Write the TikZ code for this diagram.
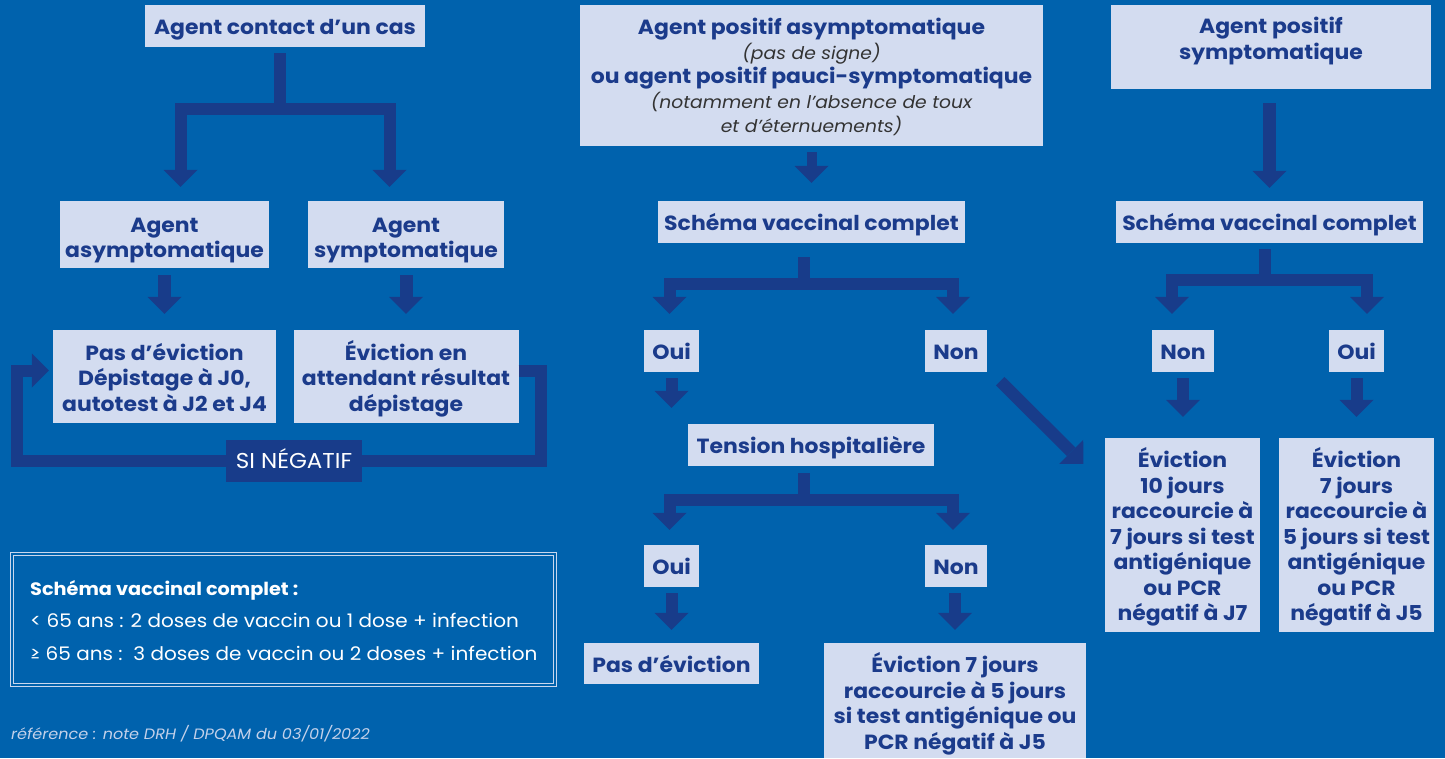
\documentclass[tikz,border=0pt]{standalone}
\usepackage{fontspec}
\setmainfont{Poppins}[FakeStretch=1.07]
\usetikzlibrary{arrows.meta,calc}
\definecolor{bgc}{HTML}{0062AD}
\definecolor{boxc}{HTML}{D3DCF0}
\definecolor{textc}{HTML}{1B3B8B}
\definecolor{arrowc}{HTML}{183C8A}
\definecolor{grayt}{HTML}{333333}
\definecolor{legc}{HTML}{C9D7EE}
\definecolor{reft}{HTML}{C3D1EA}
\newcommand\mysubtxt{\mdseries\itshape\fontsize{17.5}{24.5}\selectfont\color{grayt}}
\newcommand\mystrut[1]{\rule{0pt}{#1}}
\tikzset{
  box/.style={fill=boxc, text=textc, font=\bfseries\fontsize{20.5}{25.5}\selectfont, align=center, inner sep=0pt,
    execute at begin node={\rule{0pt}{23pt}}, execute at end node={\rule[-5.5pt]{0pt}{5.5pt}}},
  bar/.style={draw=arrowc, line width=12pt},
  flow/.style={draw=arrowc, line width=12pt, -{Triangle[length=17pt 0 0, width=34pt 0 0, line width=0pt 0 0]}},
  legtext/.style={text=white, font=\fontsize{18.7}{22}\selectfont, anchor=base west, inner sep=0pt},
}
\begin{document}
\begin{tikzpicture}[x=1pt,y=-1pt]
\fill[bgc] (0,0) rectangle (1445,758);
\useasboundingbox (0,0) rectangle (1445,758);

% ---------- left column ----------
\node[box, minimum width=280, minimum height=42] (a1) at (285,26) {Agent contact d’un cas};
\node[box, minimum width=209, minimum height=67] (a2) at (164.5,234.5) {\mystrut{26pt}Agent\\asymptomatique};
\node[box, minimum width=196, minimum height=67] (a3) at (406,234.5) {\mystrut{26pt}Agent\\symptomatique};
\node[box, minimum width=223, minimum height=93] (a4) at (164.5,376.5) {\mystrut{24pt}Pas d’éviction\\Dépistage à J0,\\autotest à J2 et J4};
\node[box, minimum width=225, minimum height=93] (a5) at (406,376.5) {\mystrut{24pt}Éviction en\\attendant résultat\\dépistage};

\coordinate (fA) at (280,109);
\draw[bar] ($(a1.south)+(-5,6)$) -- (fA);
\draw[flow] (fA) -| ($(a2.north)+(16,-14)$);
\draw[flow] (fA) -| ($(a3.north)+(-16.5,-14)$);
\draw[flow, line width=13pt] ($(a2.south)+(0,7)$) -- ($(a4.north)+(0,-16)$);
\draw[flow, line width=13pt] ($(a3.south)+(0,7)$) -- ($(a5.north)+(0,-16)$);
\draw[flow] ($(a5.east)+(0,-6)$) -- ++(22.5,0) -- ++(0,90.5) -- ++(-524,0) -- ++(0,-90.5) -- ($(a4.west)+(-4,-6)$);
\node[fill=arrowc, text=white, font=\fontsize{21.5}{24}\selectfont, minimum width=136, minimum height=42, inner sep=0pt] (si) at (294,461) {\rule[-5.5pt]{0pt}{24.5pt}SI NÉGATIF};

\node[draw=legc, double=bgc, double distance=2pt, line width=0.9pt, minimum width=543, minimum height=131, inner sep=0pt] (leg) at (283.5,619.5) {};
\node[legtext, font=\bfseries\fontsize{18}{22}\selectfont] (l1) at (30,595) {Schéma vaccinal complet :};
\node[legtext] (l2) at (30,627) {< 65 ans : 2 doses de vaccin ou 1 dose + infection};
\node[legtext] (l3) at (30,660) {≥ 65 ans :\ \ 3 doses de vaccin ou 2 doses + infection};
\node[text=reft, font=\itshape\fontsize{15}{18}\selectfont, anchor=base west, inner sep=0pt] (ref) at (11,739) {référence : note DRH / DPQAM du 03/01/2022};

% ---------- middle column ----------
\node[box, font=\bfseries\fontsize{20.5}{24.5}\selectfont, minimum width=463, minimum height=141] (m1) at (811.5,75.5)
  {\mystrut{22pt}Agent positif asymptomatique\\{\mysubtxt (pas de signe)}\\ou agent positif pauci-symptomatique\\{\mysubtxt (notamment en l’absence de toux}\\{\mysubtxt et d’éternuements)}};
\node[box, minimum width=307, minimum height=42] (m2) at (811.5,222) {Schéma vaccinal complet};
\node[box, minimum width=55, minimum height=42] (m3) at (671.5,351) {Oui};
\node[box, minimum width=62, minimum height=42] (m4) at (956,351) {Non};
\node[box, minimum width=246, minimum height=42] (m5) at (811,445) {Tension hospitalière};
\node[box, minimum width=55, minimum height=42] (m6) at (671.5,566) {Oui};
\node[box, minimum width=62, minimum height=42] (m7) at (956,566) {Non};
\node[box, minimum width=175, minimum height=41] (m8) at (671.5,663.5) {Pas d’éviction};
\node[box, minimum width=262, minimum height=115] (m9) at (955,700.5) {\mystrut{27pt}Éviction 7 jours\\raccourcie à 5 jours\\si test antigénique ou\\PCR négatif à J5};

\draw[flow, line width=10pt] ($(m1.south)+(0,6)$) -- ($(m2.north)+(0,-18)$);
\coordinate (fM1) at (804,284);
\draw[bar] ($(m2.south)+(-7.5,14)$) -- (fM1);
\draw[flow] (fM1) -| ($(m3.north)+(-2,-16)$);
\draw[flow] (fM1) -| ($(m4.north)+(-3,-16)$);
\draw[flow] ($(m3.south)+(0,6)$) -- ($(m3.south |- m5.north)+(0,-16)$);
\coordinate (fM2) at (804,500);
\draw[bar] ($(m5.south)+(-7,7)$) -- (fM2);
\draw[flow] (fM2) -| ($(m6.north)+(-2,-15)$);
\draw[flow] (fM2) -| ($(m7.north)+(-3,-15)$);
\draw[flow] ($(m6.south)+(0,6)$) -- ($(m8.north)+(0,-13)$);
\draw[flow] ($(m7.south)+(-1,6)$) -- ($(m9.north)+(0,-13)$);

% ---------- right column ----------
\node[box, minimum width=320, minimum height=84, text depth=22pt] (r1) at (1271,47) {\mystrut{21pt}Agent positif\\symptomatique};
\node[box, minimum width=307, minimum height=42] (r2) at (1269.5,222) {Schéma vaccinal complet};
\node[box, minimum width=62, minimum height=42] (r3) at (1183,351) {Non};
\node[box, minimum width=55, minimum height=42] (r4) at (1356.5,351) {Oui};
\node[box, minimum width=155, minimum height=194] (r5) at (1182.5,535) {\mystrut{24pt}Éviction\\10 jours\\raccourcie à\\7 jours si test\\antigénique\\ou PCR\\négatif à J7};
\node[box, minimum width=155, minimum height=194] (r6) at (1356.5,535) {\mystrut{24pt}Éviction\\7 jours\\raccourcie à\\5 jours si test\\antigénique\\ou PCR\\négatif à J5};

\draw[flow] ($(m4.south east)+(13,9)$) -- ($(r5.north west)+(-21.5,26)$);
\draw[flow, line width=13pt] ($(r1.south)+(-1.5,14)$) -- ($(r2.north)+(0,-13)$);
\coordinate (fR) at (1265,280);
\draw[bar] ($(r2.south)+(-4.5,6)$) -- (fR);
\draw[flow] (fR) -| ($(r3.north)+(-11,-16)$);
\draw[flow] (fR) -| ($(r4.north)+(10.5,-16)$);
\draw[flow] ($(r3.south)+(0,6)$) -- ($(r3.south |- r5.north)+(0,-21)$);
\draw[flow] ($(r4.south)+(0,6)$) -- ($(r4.south |- r6.north)+(0,-21)$);
\end{tikzpicture}
\end{document}
